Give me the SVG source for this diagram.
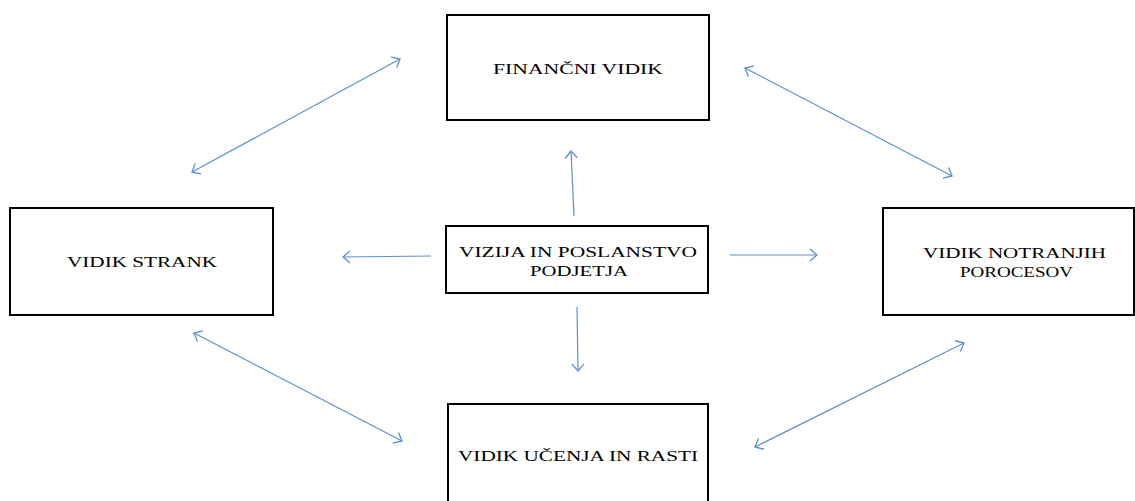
<svg xmlns="http://www.w3.org/2000/svg" width="1135" height="501" viewBox="0 0 1135 501">
  <defs>
    <marker id="head" viewBox="-8 -7 10 14" markerWidth="10" markerHeight="14" markerUnits="userSpaceOnUse" refX="0" refY="0" orient="auto-start-reverse">
      <polyline points="-7,-6 0,0 -7,6" fill="none" stroke="#5b8fd0" stroke-width="1.3"/>
    </marker>
    <style>
      .box { fill: #ffffff; stroke: #000000; stroke-width: 2; }
      .lbl { font-family: "Liberation Serif", "Times New Roman", serif; font-size: 15px; fill: #000000; text-anchor: start; }
      .link { fill: none; stroke: #5b8fd0; stroke-width: 1.2; }
      .one { marker-end: url(#head); }
      .both { marker-start: url(#head); marker-end: url(#head); }
    </style>
  </defs>
  <rect width="1135" height="501" fill="#ffffff"/>

  <g id="connectors">
    <!-- outer two-way links -->
    <line class="link both" x1="192" y1="172" x2="400" y2="59"/>
    <line class="link both" x1="745" y1="68" x2="952" y2="176"/>
    <line class="link both" x1="194" y1="333" x2="402" y2="441"/>
    <line class="link both" x1="964" y1="343" x2="755" y2="447"/>
    <!-- links leaving the centre -->
    <line class="link one" x1="574" y1="216" x2="571" y2="151"/>
    <line class="link one" x1="431" y1="256" x2="343" y2="257"/>
    <line class="link one" x1="730" y1="255" x2="817" y2="255"/>
    <line class="link one" x1="577" y1="307" x2="578" y2="371"/>
  </g>

  <g id="node-financni">
    <rect class="box" x="447" y="15" width="262" height="105"/>
    <text class="lbl" x="493" y="74" textLength="170" lengthAdjust="spacingAndGlyphs">FINANČNI VIDIK</text>
  </g>

  <g id="node-stranke">
    <rect class="box" x="10" y="208" width="263" height="107"/>
    <text class="lbl" x="67" y="267" textLength="150" lengthAdjust="spacingAndGlyphs">VIDIK STRANK</text>
  </g>

  <g id="node-vizija">
    <rect class="box" x="446" y="226" width="262" height="67"/>
    <text class="lbl" x="459" y="257" textLength="238" lengthAdjust="spacingAndGlyphs">VIZIJA IN POSLANSTVO</text>
    <text class="lbl" x="530" y="276" textLength="98" lengthAdjust="spacingAndGlyphs">PODJETJA</text>
  </g>

  <g id="node-procesi">
    <rect class="box" x="883" y="208" width="251" height="107"/>
    <text class="lbl" x="923" y="258" textLength="183" lengthAdjust="spacingAndGlyphs">VIDIK NOTRANJIH</text>
    <text class="lbl" x="960" y="277" textLength="113" lengthAdjust="spacingAndGlyphs">POROCESOV</text>
  </g>

  <g id="node-ucenje">
    <rect class="box" x="448" y="404" width="260" height="110"/>
    <text class="lbl" x="458" y="461" textLength="240" lengthAdjust="spacingAndGlyphs">VIDIK UČENJA IN RASTI</text>
  </g>
</svg>
